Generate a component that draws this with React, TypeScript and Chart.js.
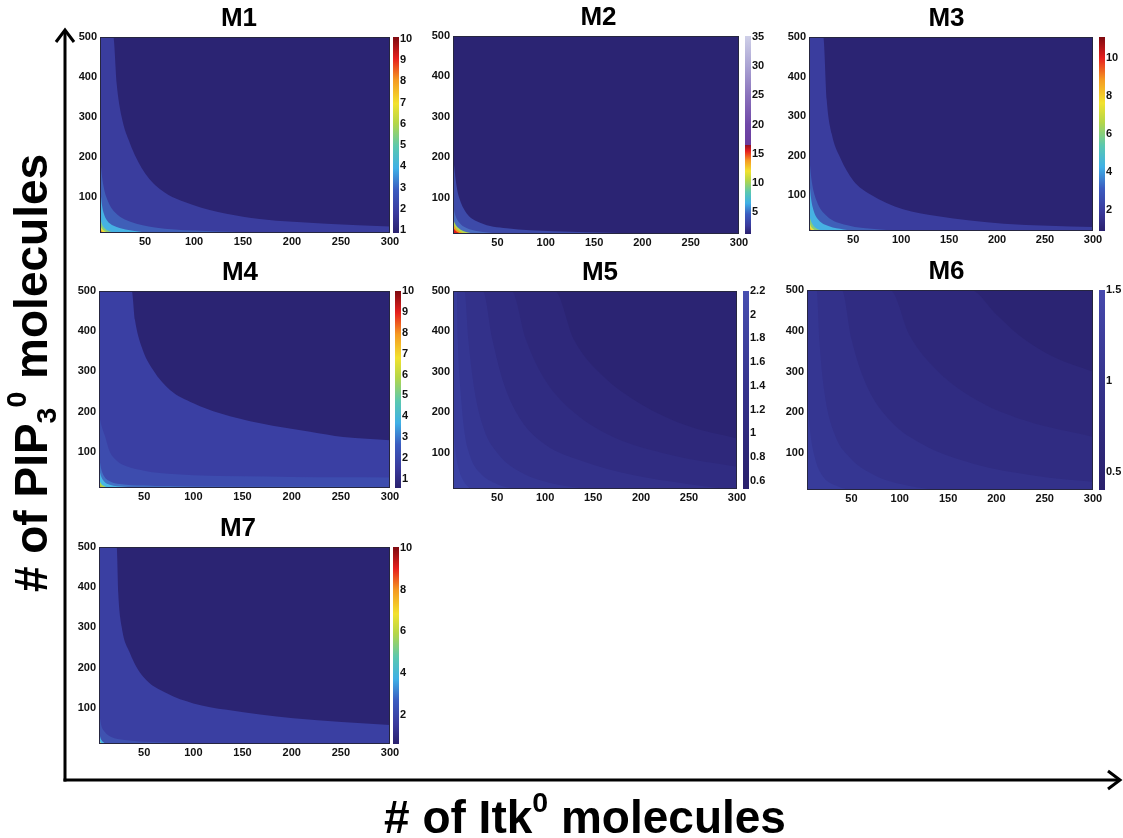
import React, { useEffect, useRef } from 'react';
import { Chart, registerables } from 'chart.js';

Chart.register(...registerables);

type Pt = [number, number];

// ---------- shared axis data ----------
const X_TICKS = [50, 100, 150, 200, 250, 300];
const Y_TICKS = [100, 200, 300, 400, 500];
const X_RANGE = [4, 300];
const Y_RANGE = [10, 500];

// ---------- M1 ----------
const M1_C1: Pt[] = [[4, 500], [17.6, 500], [21, 384], [26, 301], [34.6, 234], [48, 167], [65, 120], [99, 80], [133, 58], [167, 45], [235, 33], [300, 26]];
const M1_C2: Pt[] = [[4, 200], [7, 135], [12, 90], [20, 60], [35, 38], [60, 24], [100, 16], [150, 12], [200, 10]];
const M1_C3: Pt[] = [[4, 130], [6, 80], [8, 58], [11, 42], [18, 28], [30, 19], [45, 13], [55, 10]];
const M1_C4: Pt[] = [[4, 50], [6, 32], [9, 21], [15, 13], [22, 10]];
const M1_C5: Pt[] = [[4, 32], [6, 21], [10, 13], [13, 10]];
const M1_C6: Pt[] = [[4, 21], [6, 14], [8, 10]];
const M1_C7: Pt[] = [[4, 15], [5, 11], [6, 10]];
const M1_CB_TICKS = [1, 2, 3, 4, 5, 6, 7, 8, 9, 10];
const M1_CB_RANGE = [0.87, 10.08];

// ---------- M2 ----------
const M2_C1: Pt[] = [[4, 205], [7.8, 127], [11.2, 94], [18.2, 61], [32, 38], [59.6, 24], [108, 17], [177, 12.5], [246, 10.7], [300, 10]];
const M2_C2: Pt[] = [[4, 87], [6, 60], [10, 40], [18, 25], [30, 17], [50, 12], [72, 10]];
const M2_C3: Pt[] = [[4, 49], [6, 36], [10, 24], [16, 16], [26, 11], [34, 10]];
const M2_C4: Pt[] = [[4, 36], [7, 24], [12, 15], [18, 10]];
const M2_C5: Pt[] = [[4, 27], [6, 20], [10, 13], [13, 10]];
const M2_CB_TICKS = [5, 10, 15, 20, 25, 30, 35];
const M2_CB_RANGE = [1.2, 35.2];

// ---------- M3 ----------
const M3_C1: Pt[] = [[4, 500], [18.9, 500], [22.5, 340], [27.7, 255], [36.3, 196], [50.2, 137], [67.6, 103], [102, 65], [137, 48], [207, 28.5], [300, 20]];
const M3_C2: Pt[] = [[4, 205], [6.8, 137], [12, 86], [22.5, 48], [43, 25], [78, 14], [120, 10]];
const M3_C3: Pt[] = [[4, 150], [6, 95], [9, 60], [14, 38], [25, 22], [40, 14], [55, 10]];
const M3_C4: Pt[] = [[4, 52], [6, 35], [9, 22], [14, 14], [20, 10]];
const M3_C5: Pt[] = [[4, 35], [6, 22], [9, 14], [12, 10]];
const M3_C6: Pt[] = [[4, 22], [6, 14], [8, 10]];
const M3_C7: Pt[] = [[4, 15], [5, 10]];
const M3_CB_TICKS = [2, 4, 6, 8, 10];
const M3_CB_RANGE = [0.9, 11.1];

// ---------- M4 ----------
const M4_C1: Pt[] = [[4, 500], [37.3, 500], [40.6, 428], [47.4, 361], [59.2, 303], [76.2, 254], [100, 221], [127, 196], [168, 171], [218.6, 150], [252.5, 137], [300, 129]];
const M4_C2: Pt[] = [[4, 196], [6, 170], [10, 140], [15, 100], [22, 78], [32, 64], [50, 53], [66, 47], [100, 42], [150, 39], [200, 37.5], [250, 36.5], [300, 36]];
const M4_C3: Pt[] = [[4, 90], [6, 60], [9, 40], [15, 27], [25, 20], [50, 16], [100, 14], [200, 13], [300, 12.5]];
const M4_C4: Pt[] = [[4, 60], [6, 40], [9, 27], [15, 18], [30, 13], [60, 11], [100, 10]];
const M4_C5: Pt[] = [[4, 32], [6, 21], [10, 14], [15, 10]];
const M4_C6: Pt[] = [[4, 20], [6, 14], [8, 10]];
const M4_C7: Pt[] = [[4, 14], [5, 10]];
const M4_CB_TICKS = [1, 2, 3, 4, 5, 6, 7, 8, 9, 10];
const M4_CB_RANGE = [0.55, 10.02];

// ---------- M5 ----------
const M5_C1: Pt[] = [[4, 500], [110, 500], [130, 380], [160, 290], [200, 220], [250, 165], [300, 135]];
const M5_C2: Pt[] = [[4, 500], [65, 500], [80, 380], [100, 280], [130, 200], [170, 140], [230, 95], [300, 65]];
const M5_C3: Pt[] = [[4, 500], [35, 500], [45, 380], [57, 270], [75, 180], [100, 120], [140, 78], [190, 45], [250, 22], [290, 10]];
const M5_C4: Pt[] = [[4, 500], [16, 500], [20, 380], [26, 260], [36, 160], [50, 100], [72, 55], [105, 25], [145, 10]];
const M5_C5: Pt[] = [[4, 500], [8, 500], [9, 380], [12, 250], [16, 150], [22, 90], [32, 50], [50, 22], [70, 10]];
const M5_C6: Pt[] = [[4, 200], [6, 120], [10, 60], [15, 30], [22, 10]];
const M5_CB_TICKS = [0.6, 0.8, 1, 1.2, 1.4, 1.6, 1.8, 2, 2.2];
const M5_CB_RANGE = [0.53, 2.2];

// ---------- M6 ----------
const M6_C1: Pt[] = [[4, 500], [173, 500], [200, 440], [225, 386], [260, 335], [300, 300]];
const M6_C2: Pt[] = [[4, 500], [90, 500], [110, 390], [140, 300], [180, 230], [230, 180], [300, 140]];
const M6_C3: Pt[] = [[4, 500], [40, 500], [50, 380], [65, 270], [90, 180], [125, 120], [175, 75], [240, 45], [300, 30]];
const M6_C4: Pt[] = [[4, 500], [14, 500], [17, 370], [22, 250], [32, 150], [48, 90], [75, 45], [110, 20], [140, 10]];
const M6_C5: Pt[] = [[4, 260], [7, 160], [12, 90], [20, 45], [35, 20], [50, 10]];
const M6_CB_TICKS = [0.5, 1, 1.5];
const M6_CB_RANGE = [0.4, 1.5];

// ---------- M7 ----------
const M7_C1: Pt[] = [[4, 500], [22, 500], [23.6, 385], [27, 302], [35.5, 236], [49, 177], [72.9, 136], [100, 111], [134, 95], [201.7, 74], [300, 57]];
const M7_C2: Pt[] = [[4, 95], [6, 60], [10, 40], [16, 28], [30, 20], [60, 15], [100, 12], [150, 10]];
const M7_C3: Pt[] = [[4, 50], [5, 30], [7, 18], [10, 12], [13, 10]];
const M7_C4: Pt[] = [[4, 25], [5, 17], [6, 12], [7, 10]];
const M7_C5: Pt[] = [[4, 15], [5, 10]];
const M7_CB_TICKS = [2, 4, 6, 8, 10];
const M7_CB_RANGE = [0.63, 10.03];

// ---------- styles ----------
const BG = '#2b2473';
const JET: Array<[number, string]> = [
  [0, '#2a216e'], [0.1, '#3a3a9c'], [0.22, '#3b5cc0'], [0.33, '#3fb0e6'], [0.44, '#5ac8b0'],
  [0.56, '#b4d648'], [0.66, '#f2e22e'], [0.78, '#f59a22'], [0.89, '#e6201e'], [1, '#7e0a10'],
];
const M2_STOPS_V: Array<[number, string]> = [
  [1.2, '#2a216e'], [2.6, '#3a3a9c'], [4.6, '#3b5cc0'], [6.5, '#3fb0e6'], [8.4, '#5ac8b0'],
  [10.4, '#b4d648'], [12, '#f2e22e'], [13.8, '#f59a22'], [15.4, '#e6201e'], [16.4, '#9a1020'],
  [16.5, '#6a3c9e'], [20, '#7048a8'], [25, '#8a72bc'], [30, '#aaa3d3'], [35.2, '#cfd0e8'],
];
const toT = (stops: Array<[number, string]>, r: number[]) =>
  stops.map(([v, c]) => [(v - r[0]) / (r[1] - r[0]), c] as [number, string]);

const TICK_FONT = { family: '"Liberation Sans", Arial, sans-serif', size: 11, weight: 'bold' as const };

type Spec = {
  title: string;
  contours: Pt[][];
  colors: string[];
  cbTicks: number[];
  cbRange: number[];
  cbStops: Array<[number, string]>;
  rect: number[]; // L T R B
  cbW: number;
  cbGap: number;
};

const JET_BANDS = ['#3a3d9e', '#3f5fb8', '#46b2e3', '#86cc7a', '#ece03a', '#f08a22', '#c81818'];

const PANELS: Spec[] = [
  { title: 'M1', contours: [M1_C1, M1_C2, M1_C3, M1_C4, M1_C5, M1_C6, M1_C7],
    colors: JET_BANDS,
    cbTicks: M1_CB_TICKS, cbRange: M1_CB_RANGE, cbStops: JET, rect: [100, 37, 390, 233], cbW: 28, cbGap: 3 },
  { title: 'M2', contours: [M2_C1, M2_C2, M2_C3, M2_C4, M2_C5],
    colors: ['#3d4aa9', '#4a6cc0', '#b6d84a', '#f0a020', '#e01a1a'],
    cbTicks: M2_CB_TICKS, cbRange: M2_CB_RANGE, cbStops: toT(M2_STOPS_V, M2_CB_RANGE), rect: [453, 36, 739, 234], cbW: 45, cbGap: 6 },
  { title: 'M3', contours: [M3_C1, M3_C2, M3_C3, M3_C4, M3_C5, M3_C6, M3_C7],
    colors: JET_BANDS,
    cbTicks: M3_CB_TICKS, cbRange: M3_CB_RANGE, cbStops: JET, rect: [809, 37, 1093, 231], cbW: 31, cbGap: 6 },
  { title: 'M4', contours: [M4_C1, M4_C2, M4_C3, M4_C4, M4_C5, M4_C6, M4_C7],
    colors: ['#3a3fa3', '#3d4cae', '#4270c4', '#48b6e4', '#a8d450', '#f09a24', '#d0181c'],
    cbTicks: M4_CB_TICKS, cbRange: M4_CB_RANGE, cbStops: JET, rect: [99, 291, 390, 488], cbW: 31, cbGap: 5 },
  { title: 'M5', contours: [M5_C1, M5_C2, M5_C3, M5_C4, M5_C5, M5_C6],
    colors: ['#2e287b', '#302c82', '#33318a', '#353692', '#383c9b', '#3b42a4'],
    cbTicks: M5_CB_TICKS, cbRange: M5_CB_RANGE, cbStops: [[0, '#29206c'], [0.5, '#35338c'], [1, '#4850b0']], rect: [453, 291, 737, 489], cbW: 50, cbGap: 6 },
  { title: 'M6', contours: [M6_C1, M6_C2, M6_C3, M6_C4, M6_C5],
    colors: ['#2e287b', '#302c82', '#33318a', '#353692', '#383c9b'],
    cbTicks: M6_CB_TICKS, cbRange: M6_CB_RANGE, cbStops: [[0, '#29206c'], [0.5, '#34328a'], [1, '#4649ad']], rect: [807, 290, 1093, 490], cbW: 33, cbGap: 6 },
  { title: 'M7', contours: [M7_C1, M7_C2, M7_C3, M7_C4, M7_C5],
    colors: ['#3a3fa2', '#3f52b0', '#49b4e4', '#e0dc40', '#e03a20'],
    cbTicks: M7_CB_TICKS, cbRange: M7_CB_RANGE, cbStops: JET, rect: [99, 547, 390, 744], cbW: 27, cbGap: 3 },
];

const Y_AXIS_W = 40;
const TITLE_H = 37;
const X_AXIS_H = 22;
const CB_BAR_W = 6;

function framePlugin() {
  return {
    id: 'frame',
    beforeDatasetsDraw(chart: any) {
      const { ctx, chartArea: a } = chart;
      ctx.save();
      ctx.fillStyle = BG;
      ctx.fillRect(a.left, a.top, a.right - a.left, a.bottom - a.top);
      ctx.restore();
    },
    afterDatasetsDraw(chart: any) {
      const { ctx, chartArea: a } = chart;
      ctx.save();
      ctx.strokeStyle = '#262640';
      ctx.lineWidth = 1;
      ctx.strokeRect(a.left + 0.5, a.top + 0.5, a.right - a.left - 1, a.bottom - a.top - 1);
      ctx.restore();
    },
  };
}

function colorbarPlugin(stops: Array<[number, string]>, gap: number) {
  return {
    id: 'colorbar',
    afterDraw(chart: any) {
      const s = chart.scales.cb;
      const { ctx, chartArea: a } = chart;
      const g = ctx.createLinearGradient(0, s.bottom, 0, s.top);
      stops.forEach(([t, c]) => g.addColorStop(Math.max(0, Math.min(1, t)), c));
      ctx.save();
      ctx.fillStyle = g;
      ctx.fillRect(a.right + gap, s.top, CB_BAR_W, s.bottom - s.top);
      ctx.restore();
    },
  };
}

function buildConfig(spec: Spec): any {
  const setTicks = (vals: number[]) => (axis: any) => {
    axis.ticks = vals.map((v) => ({ value: v }));
  };
  return {
    type: 'line',
    data: {
      datasets: spec.contours.map((pts, i) => ({
        data: pts.map(([x, y]) => ({ x, y })),
        backgroundColor: spec.colors[i],
        borderColor: 'rgba(0,0,0,0)',
        borderWidth: 0,
        pointRadius: 0,
        fill: 'start',
        cubicInterpolationMode: 'monotone',
        order: spec.contours.length - i,
      })),
    },
    options: {
      animation: false,
      responsive: false,
      maintainAspectRatio: false,
      layout: { padding: 0 },
      events: [],
      plugins: {
        legend: { display: false },
        tooltip: { enabled: false },
        title: {
          display: true,
          text: spec.title,
          color: '#000',
          font: { family: '"Liberation Sans", Arial, sans-serif', size: 26, weight: 'bold', lineHeight: 1 },
          padding: { top: 6, bottom: 5 },
        },
      },
      scales: {
        x: {
          type: 'linear',
          min: X_RANGE[0],
          max: X_RANGE[1],
          afterBuildTicks: setTicks(X_TICKS),
          afterFit: (s: any) => { s.height = X_AXIS_H; },
          grid: { display: false, drawTicks: false },
          border: { display: false },
          ticks: { font: TICK_FONT, color: '#111', padding: 2, maxRotation: 0, autoSkip: false, callback: (v: any) => String(v) },
        },
        y: {
          type: 'linear',
          min: Y_RANGE[0],
          max: Y_RANGE[1],
          afterBuildTicks: setTicks(Y_TICKS),
          afterFit: (s: any) => { s.width = Y_AXIS_W; },
          grid: { display: false, drawTicks: false },
          border: { display: false },
          ticks: { font: TICK_FONT, color: '#111', padding: 3, autoSkip: false, callback: (v: any) => String(v) },
        },
        cb: {
          type: 'linear',
          position: 'right',
          min: spec.cbRange[0],
          max: spec.cbRange[1],
          afterBuildTicks: setTicks(spec.cbTicks),
          afterFit: (s: any) => { s.width = spec.cbW; },
          grid: { display: false, drawTicks: false },
          border: { display: false },
          ticks: { font: TICK_FONT, color: '#111', padding: spec.cbGap + CB_BAR_W + 1, autoSkip: false, callback: (v: any) => String(v) },
        },
      },
    },
    plugins: [framePlugin(), colorbarPlugin(spec.cbStops, spec.cbGap)],
  };
}

function Panel({ spec }: { spec: Spec }) {
  const ref = useRef<HTMLCanvasElement>(null);
  const [L, T, R, B] = spec.rect;
  const w = R - L + Y_AXIS_W + spec.cbW;
  const h = B - T + TITLE_H + X_AXIS_H;
  useEffect(() => {
    const chart = new Chart(ref.current as HTMLCanvasElement, buildConfig(spec));
    return () => chart.destroy();
  }, [spec]);
  return (
    <canvas
      ref={ref}
      width={w}
      height={h}
      style={{ position: 'absolute', left: L - Y_AXIS_W, top: T - TITLE_H, width: w, height: h }}
    />
  );
}

const LABEL_STYLE: React.CSSProperties = {
  position: 'absolute',
  fontFamily: '"Liberation Sans", Arial, sans-serif',
  fontWeight: 'bold',
  fontSize: 46,
  lineHeight: 1,
  whiteSpace: 'nowrap',
  color: '#000',
};
const SUP: React.CSSProperties = { fontSize: '0.62em', verticalAlign: '0.75em', lineHeight: 0 };
const SUB: React.CSSProperties = { fontSize: '0.62em', verticalAlign: '-0.3em', lineHeight: 0 };

export default function App() {
  return (
    <div style={{ position: 'absolute', left: 0, top: 0, width: 1123, height: 838, overflow: 'hidden', background: '#fff' }}>
      {PANELS.map((p) => (
        <Panel key={p.title} spec={p} />
      ))}
      <svg width={1123} height={838} style={{ position: 'absolute', left: 0, top: 0 }}>
        <line x1={65} y1={781.5} x2={65} y2={31} stroke="#000" strokeWidth={3} />
        <polyline points="56,42 65,30 74,42" fill="none" stroke="#000" strokeWidth={3} strokeLinejoin="miter" />
        <line x1={63.5} y1={780} x2={1119} y2={780} stroke="#000" strokeWidth={3} />
        <polyline points="1108,771 1120,780 1108,789" fill="none" stroke="#000" strokeWidth={3} strokeLinejoin="miter" />
      </svg>
      <div style={{ ...LABEL_STYLE, left: 31, top: 373, transform: 'translate(-50%, -50%) rotate(-90deg)' }}>
        # of PIP<span style={SUB}>3</span><span style={SUP}>0</span> molecules
      </div>
      <div style={{ ...LABEL_STYLE, left: 585, top: 817, transform: 'translate(-50%, -50%)' }}>
        # of Itk<span style={SUP}>0</span> molecules
      </div>
    </div>
  );
}
